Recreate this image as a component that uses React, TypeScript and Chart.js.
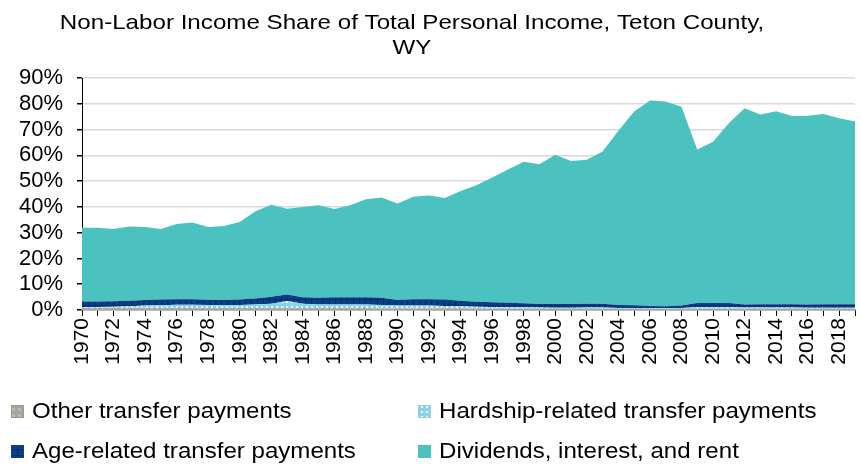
import React, { useEffect, useRef } from 'react';
import { Chart, registerables } from 'chart.js';

Chart.register(...registerables);

const years: string[] = [
  '1970','1971','1972','1973','1974','1975','1976','1977','1978','1979',
  '1980','1981','1982','1983','1984','1985','1986','1987','1988','1989',
  '1990','1991','1992','1993','1994','1995','1996','1997','1998','1999',
  '2000','2001','2002','2003','2004','2005','2006','2007','2008','2009',
  '2010','2011','2012','2013','2014','2015','2016','2017','2018','2019',
];

const otherTransfer: number[] = [
  0.9,0.9,0.9,0.9,0.9,0.8,0.8,0.8,0.8,0.8,
  0.8,0.8,0.8,0.8,0.8,0.8,0.8,0.8,0.8,0.7,
  0.7,0.7,0.7,0.7,0.7,0.6,0.6,0.6,0.6,0.6,
  0.6,0.6,0.6,0.6,0.5,0.5,0.5,0.5,0.5,0.6,
  0.6,0.6,0.6,0.6,0.6,0.6,0.6,0.6,0.6,0.6,
];

const hardshipTransfer: number[] = [
  0.3,0.3,0.4,0.6,0.8,1.0,1.2,1.2,1.1,1.0,
  1.1,1.3,1.6,2.7,1.6,1.3,1.3,1.3,1.3,1.2,
  1.0,1.0,1.0,0.9,0.8,0.7,0.6,0.5,0.5,0.4,
  0.3,0.3,0.4,0.4,0.3,0.3,0.3,0.3,0.3,0.5,
  0.5,0.5,0.4,0.4,0.4,0.4,0.3,0.3,0.3,0.3,
];

const ageTransfer: number[] = [
  2.1,2.1,2.1,2.1,2.2,2.3,2.2,2.2,2.1,2.1,
  2.2,2.4,2.7,2.5,2.5,2.7,2.8,2.8,2.8,2.9,
  2.2,2.5,2.5,2.5,2.1,1.9,1.8,1.7,1.5,1.3,
  1.4,1.4,1.4,1.4,1.1,1.0,0.8,0.7,0.9,1.6,
  1.6,1.6,1.1,1.2,1.2,1.2,1.2,1.3,1.3,1.3,
];

const dividends: number[] = [
  28.6,28.6,28.0,28.8,28.3,27.3,29.2,29.7,28.2,28.7,
  30.0,33.8,35.7,33.3,35.1,35.8,34.3,35.7,38.1,38.8,
  37.4,39.7,40.2,39.3,42.6,45.2,48.4,51.7,54.9,54.2,
  57.9,55.5,55.9,59.1,67.6,75.2,79.7,79.4,77.1,59.6,
  62.6,69.7,76.2,73.6,74.9,73.1,73.3,73.8,72.2,70.9,
];

const seriesNames: string[] = [
  'Other transfer payments',
  'Hardship-related transfer payments',
  'Age-related transfer payments',
  'Dividends, interest, and rent',
];

const yTicks: number[] = [0, 10, 20, 30, 40, 50, 60, 70, 80, 90];

const titleLines: string[] = [
  'Non-Labor Income Share of Total Personal Income, Teton County,',
  'WY',
];

const FONT = '"Liberation Sans", Arial, sans-serif';

function makePattern(kind: string): CanvasPattern | string {
  const c = document.createElement('canvas');
  const ctx = c.getContext('2d');
  if (!ctx) return '#888';
  if (kind === 'other') {
    c.width = 6; c.height = 6;
    ctx.fillStyle = '#a4a4a4';
    ctx.fillRect(0, 0, 6, 6);
    ctx.fillStyle = '#b9b9b9';
    ctx.fillRect(0, 0, 3, 3);
  } else if (kind === 'hardship') {
    c.width = 5; c.height = 5;
    ctx.fillStyle = '#8fd2e6';
    ctx.fillRect(0, 0, 5, 5);
    ctx.fillStyle = '#e8f7fb';
    ctx.fillRect(1, 1, 2, 2);
  } else if (kind === 'age') {
    c.width = 6; c.height = 6;
    ctx.fillStyle = '#0b4089';
    ctx.fillRect(0, 0, 6, 6);
    ctx.fillStyle = '#07306a';
    ctx.fillRect(0, 5, 6, 1);
    ctx.fillRect(5, 0, 1, 6);
  } else {
    return '#4bc2bf';
  }
  const p = ctx.createPattern(c, 'repeat');
  return p || '#888';
}

export default function App() {
  const canvasRef = useRef<HTMLCanvasElement | null>(null);

  useEffect(() => {
    const canvas = canvasRef.current;
    if (!canvas) return;
    const fills = [
      makePattern('other'),
      makePattern('hardship'),
      makePattern('age'),
      makePattern('div'),
    ];
    const swatchBorders = ['#a39b6e', '#8fd2e6', '#0b4089', '#4bc2bf'];
    const values = [otherTransfer, hardshipTransfer, ageTransfer, dividends];

    const drawStretched = (ctx: CanvasRenderingContext2D, text: string, x: number, y: number, sx: number) => {
      ctx.save();
      ctx.translate(x, y);
      ctx.scale(sx, 1);
      ctx.fillText(text, 0, 0);
      ctx.restore();
    };

    const titleLegendPlugin = {
      id: 'titleLegend',
      afterDraw(chart: any) {
        const ctx = chart.ctx as CanvasRenderingContext2D;
        ctx.save();
        ctx.fillStyle = '#000';
        ctx.font = `21px ${FONT}`;
        ctx.textAlign = 'center';
        ctx.textBaseline = 'middle';
        drawStretched(ctx, titleLines[0], 412, 23, 1.15);
        drawStretched(ctx, titleLines[1], 412, 48, 1.15);
        // legend
        const pos = [
          { x: 11, y: 405 },
          { x: 418, y: 405 },
          { x: 11, y: 445 },
          { x: 418, y: 445 },
        ];
        ctx.font = `21.5px ${FONT}`;
        ctx.textAlign = 'left';
        for (let i = 0; i < 4; i++) {
          const p = pos[i];
          ctx.fillStyle = fills[i] as any;
          ctx.fillRect(p.x, p.y, 13, 13);
          ctx.strokeStyle = swatchBorders[i];
          ctx.lineWidth = 1;
          ctx.strokeRect(p.x + 0.5, p.y + 0.5, 12, 12);
          ctx.fillStyle = '#000';
          drawStretched(ctx, seriesNames[i], p.x + 21, p.y + 7, 1.12);
        }
        ctx.restore();
      },
    };

    const chart = new Chart(canvas, {
      type: 'line',
      data: {
        labels: years,
        datasets: seriesNames.map((name, i) => ({
          label: name,
          data: values[i],
          backgroundColor: fills[i] as any,
          borderColor: 'rgba(0,0,0,0)',
          borderWidth: 0,
          pointRadius: 0,
          tension: 0,
          fill: i === 0 ? 'origin' : '-1',
        })),
      },
      options: {
        animation: false,
        responsive: false,
        devicePixelRatio: 1,
        layout: { padding: { top: 78, right: 6, bottom: 100, left: 0 } },
        plugins: {
          legend: { display: false },
          title: { display: false },
          tooltip: { enabled: false },
        },
        scales: {
          x: {
            type: 'category',
            offset: false,
            grid: {
              drawOnChartArea: false,
              drawTicks: true,
              tickLength: 6,
              tickColor: '#000',
            },
            border: { color: '#8c8c8c', width: 1.5 },
            ticks: {
              autoSkip: false,
              minRotation: 90,
              maxRotation: 90,
              padding: 2,
              color: '#000',
              font: { size: 21, family: FONT },
              callback: (_v: any, i: number) => (i % 2 === 0 ? years[i] : ''),
            },
            afterFit: (s: any) => {
              s.height = 54;
              s.paddingLeft = 0;
              s.paddingRight = 0;
            },
          },
          y: {
            stacked: true,
            min: 0,
            max: 90,
            afterBuildTicks: (s: any) => { s.ticks = yTicks.map((v) => ({ value: v })); },
            grid: {
              color: '#d9d9d9',
              lineWidth: 1.5,
              tickLength: 5,
              tickColor: '#000',
            },
            border: { color: '#000', width: 1 },
            ticks: {
              autoSkip: false,
              stepSize: 10,
              padding: 14,
              color: '#000',
              font: { size: 22, family: FONT },
              callback: (v: any) => `${v}%`,
            },
            afterFit: (s: any) => {
              s.width = 82;
              s.paddingTop = 0;
              s.paddingBottom = 0;
            },
          },
        },
      },
      plugins: [titleLegendPlugin],
    } as any);
    return () => chart.destroy();
  }, []);

  return (
    <div style={{ position: 'absolute', left: 0, top: 0, width: 861, height: 464, background: '#fff' }}>
      <canvas ref={canvasRef} width={861} height={464} style={{ display: 'block', width: 861, height: 464 }} />
    </div>
  );
}
